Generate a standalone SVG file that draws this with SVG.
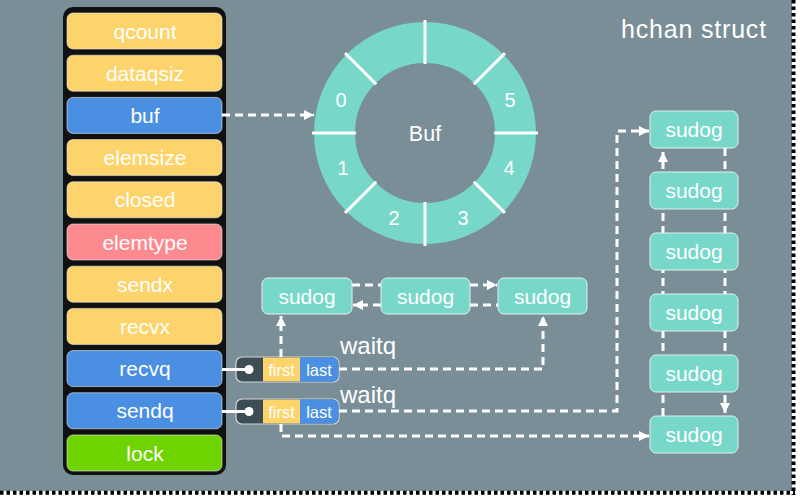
<svg xmlns="http://www.w3.org/2000/svg" width="800" height="496" viewBox="0 0 800 496">
<defs>
<style>
.t{font-family:"Liberation Sans",Arial,sans-serif;fill:#fff;text-anchor:middle}
.cell{stroke:#e8eef0;stroke-opacity:.6;stroke-width:1}
.y{fill:#fdd46b}.b{fill:#4a8fe2}.p{fill:#fd8a8f}.g{fill:#6fd300}
.sd{fill:#77d7c9;stroke:#dff3ef;stroke-width:1}
.dl{fill:none;stroke:#fff;stroke-width:3;stroke-dasharray:8 5}
.sep{stroke:#fff;stroke-width:3}
</style>
<marker id="ah" viewBox="0 0 10 10" refX="10" refY="5" markerWidth="10" markerHeight="10" markerUnits="userSpaceOnUse" orient="auto">
<path d="M0,0 L10,5 L0,10 z" fill="#fff"/>
</marker>
</defs>
<rect width="800" height="496" fill="#fff"/>
<rect x="0" y="0" width="792" height="491" fill="#7a8e97"/>
<line x1="0" y1="492.8" x2="795" y2="492.8" stroke="#000" stroke-width="4" stroke-dasharray="3.5 3"/>
<line x1="793.5" y1="0" x2="793.5" y2="495" stroke="#000" stroke-width="4" stroke-dasharray="3.5 3"/>

<text class="t" x="694" y="38" font-size="25" letter-spacing="0.8">hchan struct</text>

<g id="hchan">
<rect x="63" y="7" width="163" height="468" rx="10" fill="#111"/>
<g id="f-qcount"><rect class="cell y" x="67" y="13" width="155" height="36" rx="6"/><text class="t" x="145" y="38.5" font-size="21">qcount</text></g>
<g id="f-dataqsiz"><rect class="cell y" x="67" y="55.2" width="155" height="36" rx="6"/><text class="t" x="145" y="80.7" font-size="21">dataqsiz</text></g>
<g id="f-buf"><rect class="cell b" x="67" y="97.4" width="155" height="36" rx="6"/><text class="t" x="145" y="122.9" font-size="21">buf</text></g>
<g id="f-elemsize"><rect class="cell y" x="67" y="139.6" width="155" height="36" rx="6"/><text class="t" x="145" y="165.1" font-size="21">elemsize</text></g>
<g id="f-closed"><rect class="cell y" x="67" y="181.8" width="155" height="36" rx="6"/><text class="t" x="145" y="207.3" font-size="21">closed</text></g>
<g id="f-elemtype"><rect class="cell p" x="67" y="224" width="155" height="36" rx="6"/><text class="t" x="145" y="249.5" font-size="21">elemtype</text></g>
<g id="f-sendx"><rect class="cell y" x="67" y="266.2" width="155" height="36" rx="6"/><text class="t" x="145" y="291.7" font-size="21">sendx</text></g>
<g id="f-recvx"><rect class="cell y" x="67" y="308.4" width="155" height="36" rx="6"/><text class="t" x="145" y="333.9" font-size="21">recvx</text></g>
<g id="f-recvq"><rect class="cell b" x="67" y="350.6" width="155" height="36" rx="6"/><text class="t" x="145" y="376.1" font-size="21">recvq</text></g>
<g id="f-sendq"><rect class="cell b" x="67" y="392.8" width="155" height="36" rx="6"/><text class="t" x="145" y="418.3" font-size="21">sendq</text></g>
<g id="f-lock"><rect class="cell g" x="67" y="435" width="155" height="36" rx="6"/><text class="t" x="145" y="460.5" font-size="21">lock</text></g>
</g>

<g id="buf-ring">
<circle cx="425" cy="133" r="90.5" fill="none" stroke="#77d7c9" stroke-width="41"/>
<g class="sep">
<line x1="425" y1="64" x2="425" y2="20"/>
<line x1="425" y1="64" x2="425" y2="20" transform="rotate(45 425 133)"/>
<line x1="425" y1="64" x2="425" y2="20" transform="rotate(90 425 133)"/>
<line x1="425" y1="64" x2="425" y2="20" transform="rotate(135 425 133)"/>
<line x1="425" y1="64" x2="425" y2="20" transform="rotate(180 425 133)"/>
<line x1="425" y1="64" x2="425" y2="20" transform="rotate(225 425 133)"/>
<line x1="425" y1="64" x2="425" y2="20" transform="rotate(270 425 133)"/>
<line x1="425" y1="64" x2="425" y2="20" transform="rotate(315 425 133)"/>
</g>
<text class="t" x="341" y="107" font-size="20">0</text>
<text class="t" x="510" y="107" font-size="20">5</text>
<text class="t" x="343" y="175" font-size="20">1</text>
<text class="t" x="509" y="175" font-size="20">4</text>
<text class="t" x="394" y="225" font-size="20">2</text>
<text class="t" x="463" y="225" font-size="20">3</text>
<text class="t" x="425" y="141" font-size="21.5">Buf</text>
</g>

<g id="recvq-waitq">
<rect x="236" y="357" width="103" height="25" rx="6" fill="#3c4d54" stroke="#cfd8db" stroke-width="1.2"/>
<rect x="263" y="357.6" width="37" height="23.8" fill="#fdd46b"/>
<path d="M300,357.6 H333 a5.4,5.4 0 0 1 5.4,5.4 V376 a5.4,5.4 0 0 1 -5.4,5.4 H300 z" fill="#4a8fe2"/>
<text class="t" x="281.5" y="375.5" font-size="16.5">first</text>
<text class="t" x="319" y="375.5" font-size="16.5">last</text>
</g>
<g id="sendq-waitq">
<rect x="236" y="399" width="103" height="25" rx="6" fill="#3c4d54" stroke="#cfd8db" stroke-width="1.2"/>
<rect x="263" y="399.6" width="37" height="23.8" fill="#fdd46b"/>
<path d="M300,399.6 H333 a5.4,5.4 0 0 1 5.4,5.4 V418 a5.4,5.4 0 0 1 -5.4,5.4 H300 z" fill="#4a8fe2"/>
<text class="t" x="281.5" y="417.5" font-size="16.5">first</text>
<text class="t" x="319" y="417.5" font-size="16.5">last</text>
</g>

<g id="connectors">
<path class="dl" d="M222,115 H314" marker-end="url(#ah)"/>
<line x1="222" y1="369.5" x2="249" y2="369.5" stroke="#fff" stroke-width="3"/>
<circle cx="249" cy="369.5" r="4.5" fill="#fff"/>
<line x1="222" y1="411.5" x2="249" y2="411.5" stroke="#fff" stroke-width="3"/>
<circle cx="249" cy="411.5" r="4.5" fill="#fff"/>
<path class="dl" d="M281,357 V316" marker-end="url(#ah)"/>
<path class="dl" d="M339,369 H543 V316" marker-end="url(#ah)"/>
<path class="dl" d="M339,411 H617 V131 H649" marker-end="url(#ah)"/>
<path class="dl" d="M281,424 V436 H649" marker-end="url(#ah)"/>
<path class="dl" d="M352,285 H381"/>
<path class="dl" d="M381,305 H353" marker-end="url(#ah)"/>
<path class="dl" d="M470,285 H497" marker-end="url(#ah)"/>
<path class="dl" d="M470,305 H498"/>
<path class="dl" d="M663,416 V152" marker-end="url(#ah)"/>
<path class="dl" d="M725,148 V413" marker-end="url(#ah)"/>
</g>

<text class="t" x="340" y="354" font-size="24" style="text-anchor:start">waitq</text>
<text class="t" x="340" y="403" font-size="24" style="text-anchor:start">waitq</text>

<g id="recv-sudog1"><rect class="sd" x="262" y="278" width="90" height="36" rx="6"/><text class="t" x="307" y="303.5" font-size="21">sudog</text></g>
<g id="recv-sudog2"><rect class="sd" x="381" y="278" width="89" height="36" rx="6"/><text class="t" x="425.5" y="303.5" font-size="21">sudog</text></g>
<g id="recv-sudog3"><rect class="sd" x="498" y="278" width="89" height="36" rx="6"/><text class="t" x="542.5" y="303.5" font-size="21">sudog</text></g>

<g id="send-sudog1"><rect class="sd" x="650" y="111" width="88" height="37" rx="6"/><text class="t" x="694" y="137" font-size="21">sudog</text></g>
<g id="send-sudog2"><rect class="sd" x="650" y="172" width="88" height="37" rx="6"/><text class="t" x="694" y="198" font-size="21">sudog</text></g>
<g id="send-sudog3"><rect class="sd" x="650" y="233" width="88" height="37" rx="6"/><text class="t" x="694" y="259" font-size="21">sudog</text></g>
<g id="send-sudog4"><rect class="sd" x="650" y="294" width="88" height="37" rx="6"/><text class="t" x="694" y="320" font-size="21">sudog</text></g>
<g id="send-sudog5"><rect class="sd" x="650" y="355" width="88" height="37" rx="6"/><text class="t" x="694" y="381" font-size="21">sudog</text></g>
<g id="send-sudog6"><rect class="sd" x="650" y="416" width="88" height="37" rx="6"/><text class="t" x="694" y="442" font-size="21">sudog</text></g>
</svg>
